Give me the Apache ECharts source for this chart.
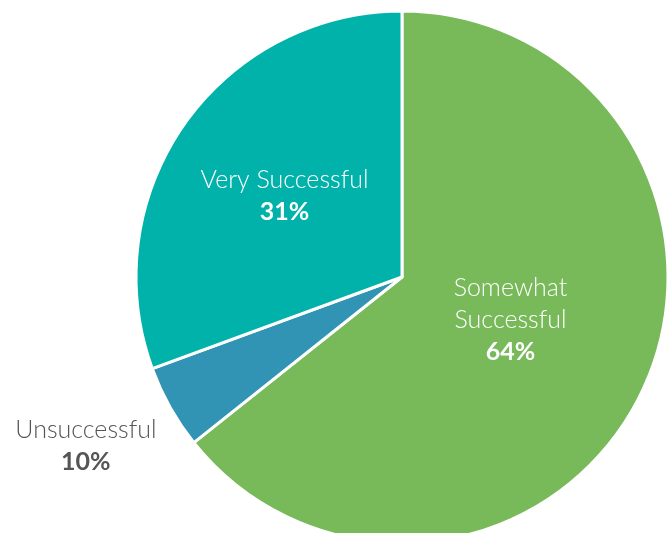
<!DOCTYPE html>
<html>
<head>
<meta charset="utf-8">
<script src="https://cdn.jsdelivr.net/npm/echarts@6/dist/echarts.min.js"></script>
<style>
html,body{margin:0;padding:0;background:#fff;}
#c{width:669px;height:533px;}
</style>
</head>
<body>
<div id="c"></div>
<script>
// slice names as shown
const categories = ['Somewhat\nSuccessful', 'Unsuccessful', 'Very Successful'];
// slice sizes as drawn (share of the circle)
const sliceValues = [64.3, 5.1, 30.6];
// percentage labels as printed in the chart
const percentLabels = ['64%', '10%', '31%'];
const colors = ['#78b95a', '#3194b5', '#00b2a9'];

const chart = echarts.init(document.getElementById('c'));
const data = categories.map((name, i) => {
  const item = {
    name: name,
    value: sliceValues[i],
    pct: percentLabels[i],
    itemStyle: { color: colors[i] }
  };
  if (i === 1) {
    item.label = {
      position: 'outside',
      color: '#555',
      rich: {
        n: { fontSize: 25, color: '#555', fontWeight: 300, lineHeight: 32, fontFamily: 'Lato', align: 'center' },
        p: { fontSize: 25, color: '#555', fontWeight: 'bold', lineHeight: 32, fontFamily: 'Lato', align: 'center' }
      }
    };
    item.labelLine = { show: false, length: 10, length2: 0 };
  }
  return item;
});

chart.setOption({
  animation: false,
  series: [{
    type: 'pie',
    center: [402, 277],
    radius: [0, 266],
    startAngle: 90,
    clockwise: true,
    avoidLabelOverlap: false,
    itemStyle: { borderColor: '#fff', borderWidth: 3 },
    label: {
      show: true,
      position: 'inside',
      align: 'center',
      formatter: p => '{n|' + p.name.split('\n').join('}\n{n|') + '}\n{p|' + p.data.pct + '}',
      rich: {
        n: { fontSize: 25, color: '#fff', fontWeight: 300, lineHeight: 32, fontFamily: 'Lato', align: 'center' },
        p: { fontSize: 25, color: '#fff', fontWeight: 'bold', lineHeight: 32, fontFamily: 'Lato', align: 'center' }
      }
    },
    labelLayout: function (params) {
      if (params.dataIndex === 1) {
        return { dx: 0, dy: 34 };
      }
      if (params.dataIndex === 0) {
        return { dx: -14, dy: -16 };
      }
      return { dx: -6, dy: -3 };
    },
    data: data
  }]
});
</script>
</body>
</html>
